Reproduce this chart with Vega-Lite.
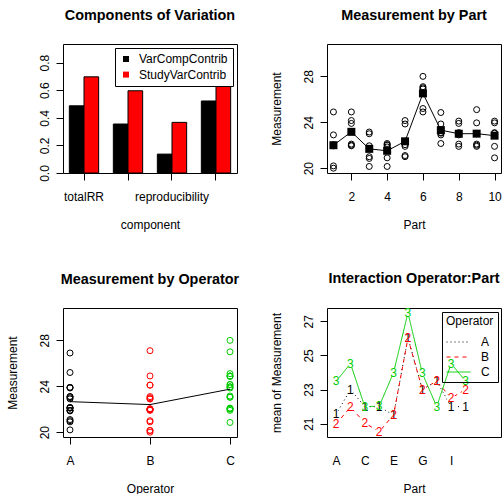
{
"$schema":"https://vega.github.io/schema/vega-lite/v6.json",
"autosize":{"type":"none"},
"padding":{"left":63,"top":44,"right":440,"bottom":450},
"background":"white",
"config":{
 "font":"Liberation Sans",
 "view":{"stroke":"black","strokeWidth":1},
 "axis":{"grid":false,"domain":false,"tickColor":"black","tickSize":7,"tickWidth":1,"labelColor":"black","labelFontSize":12,"labelFont":"Liberation Sans","titleFont":"Liberation Sans","titleFontSize":12,"titleFontWeight":"normal","titleColor":"black","labelFlush":false},
 "axisX":{"labelAngle":0,"labelBaseline":"alphabetic","labelPadding":20.5,"titleY":55.5,"titleBaseline":"alphabetic"},
 "axisY":{"labelAngle":270,"labelAlign":"center","labelBaseline":"alphabetic","labelPadding":7.5,"titleAngle":270,"titleX":-47,"titleBaseline":"alphabetic","labelOverlap":false},
 "title":{"fontSize":14.4,"fontWeight":"bold","font":"Liberation Sans","color":"black","anchor":"middle","frame":"group","offset":20.5,"baseline":"alphabetic"},
 "legend":{"titleFont":"Liberation Sans","labelFont":"Liberation Sans","titleFontWeight":"normal","titleColor":"black","labelColor":"black","titleFontSize":12,"labelFontSize":12}
},
"resolve":{"scale":{"color":"independent","strokeDash":"independent","x":"independent","y":"independent"},"legend":{"color":"independent","strokeDash":"independent"}},
"datasets":{
 "comp":[
  {"component":"totalRR","measure":"VarCompContrib","value":0.487},
  {"component":"totalRR","measure":"StudyVarContrib","value":0.697},
  {"component":"repeatability","measure":"VarCompContrib","value":0.355},
  {"component":"repeatability","measure":"StudyVarContrib","value":0.596},
  {"component":"reproducibility","measure":"VarCompContrib","value":0.137},
  {"component":"reproducibility","measure":"StudyVarContrib","value":0.367},
  {"component":"partToPart","measure":"VarCompContrib","value":0.522},
  {"component":"partToPart","measure":"StudyVarContrib","value":0.722}
 ],
 "meas":[
  {"part":1,"op":"A","code":"1","y":20.2},{"part":1,"op":"A","code":"1","y":22.9},
  {"part":1,"op":"B","code":"2","y":20.0},{"part":1,"op":"B","code":"2","y":21.95},
  {"part":1,"op":"C","code":"3","y":22.05},{"part":1,"op":"C","code":"3","y":24.9},
  {"part":2,"op":"A","code":"1","y":22.1},{"part":2,"op":"A","code":"1","y":23.9},
  {"part":2,"op":"B","code":"2","y":22.0},{"part":2,"op":"B","code":"2","y":21.95},
  {"part":2,"op":"C","code":"3","y":24.15},{"part":2,"op":"C","code":"3","y":24.9},
  {"part":3,"op":"A","code":"1","y":21.0},{"part":3,"op":"A","code":"1","y":23.0},
  {"part":3,"op":"B","code":"2","y":20.15},{"part":3,"op":"B","code":"2","y":21.95},
  {"part":3,"op":"C","code":"3","y":20.85},{"part":3,"op":"C","code":"3","y":23.15},
  {"part":4,"op":"A","code":"1","y":22.15},{"part":4,"op":"A","code":"1","y":21.85},
  {"part":4,"op":"B","code":"2","y":20.15},{"part":4,"op":"B","code":"2","y":20.9},
  {"part":4,"op":"C","code":"3","y":22.0},{"part":4,"op":"C","code":"3","y":22.05},
  {"part":5,"op":"A","code":"1","y":21.1},{"part":5,"op":"A","code":"1","y":21.9},
  {"part":5,"op":"B","code":"2","y":21.0},{"part":5,"op":"B","code":"2","y":22.05},
  {"part":5,"op":"C","code":"3","y":24.15},{"part":5,"op":"C","code":"3","y":23.85},
  {"part":6,"op":"A","code":"1","y":25.2},{"part":6,"op":"A","code":"1","y":26.9},
  {"part":6,"op":"B","code":"2","y":24.9},{"part":6,"op":"B","code":"2","y":27.1},
  {"part":6,"op":"C","code":"3","y":27.0},{"part":6,"op":"C","code":"3","y":28.0},
  {"part":7,"op":"A","code":"1","y":22.15},{"part":7,"op":"A","code":"1","y":23.85},
  {"part":7,"op":"B","code":"2","y":23.1},{"part":7,"op":"B","code":"2","y":22.9},
  {"part":7,"op":"C","code":"3","y":23.05},{"part":7,"op":"C","code":"3","y":24.85},
  {"part":8,"op":"A","code":"1","y":23.1},{"part":8,"op":"A","code":"1","y":23.9},
  {"part":8,"op":"B","code":"2","y":22.9},{"part":8,"op":"B","code":"2","y":24.1},
  {"part":8,"op":"C","code":"3","y":22.1},{"part":8,"op":"C","code":"3","y":21.9},
  {"part":9,"op":"A","code":"1","y":22.1},{"part":9,"op":"A","code":"1","y":21.9},
  {"part":9,"op":"B","code":"2","y":22.0},{"part":9,"op":"B","code":"2","y":23.0},
  {"part":9,"op":"C","code":"3","y":23.95},{"part":9,"op":"C","code":"3","y":25.1},
  {"part":10,"op":"A","code":"1","y":20.9},{"part":10,"op":"A","code":"1","y":23.1},
  {"part":10,"op":"B","code":"2","y":21.9},{"part":10,"op":"B","code":"2","y":24.1},
  {"part":10,"op":"C","code":"3","y":23.05},{"part":10,"op":"C","code":"3","y":23.95}
 ]
},
"columns":2,
"spacing":{"row":135,"column":90},
"bounds":"flush",
"concat":[
 {
  "title":"Components of Variation",
  "width":174,"height":129,
  "data":{"name":"comp"},
  "mark":{"type":"bar","stroke":"black","strokeWidth":1},
  "encoding":{
   "x":{"field":"component","type":"nominal","sort":["totalRR","repeatability","reproducibility","partToPart"],"scale":{"paddingInner":0.3333,"paddingOuter":0.144},"axis":{"title":"component","labelOverlap":false,"labelExpr":"datum.label == 'totalRR' || datum.label == 'reproducibility' ? datum.label : ''"}},
   "xOffset":{"field":"measure","sort":["VarCompContrib","StudyVarContrib"],"scale":{"paddingInner":0,"paddingOuter":0}},
   "y":{"field":"value","type":"quantitative","scale":{"domain":[0,0.935],"nice":false,"zero":false},"axis":{"values":[0,0.2,0.4,0.6,0.8],"format":".1f","title":null}},
   "color":{"field":"measure","type":"nominal","scale":{"domain":["VarCompContrib","StudyVarContrib"],"range":["#000000","#FF0000"]},"legend":{"title":null,"orient":"top-right","offset":4,"padding":5,"labelOffset":7,"rowPadding":3.6,"symbolType":"square","symbolSize":36,"symbolStrokeWidth":0,"fillColor":"white","strokeColor":"black"}}
  }
 },
 {
  "title":"Measurement by Part",
  "width":174,"height":129,
  "data":{"name":"meas"},
  "layer":[
   {"mark":{"type":"point","shape":"circle","filled":false,"color":"black","size":36,"strokeWidth":1,"opacity":1},
    "encoding":{
     "x":{"field":"part","type":"quantitative","title":"Part","scale":{"domain":[0.64,10.36],"nice":false,"zero":false},"axis":{"values":[2,4,6,8,10]}},
     "y":{"field":"y","type":"quantitative","title":"Measurement","scale":{"domain":[19.58,30.82],"nice":false,"zero":false},"axis":{"values":[20,22,24,26,28,30],"labelExpr":"datum.value % 4 == 0 ? datum.label : ''"}}}},
   {"mark":{"type":"line","color":"black","strokeWidth":1},
    "encoding":{
     "x":{"field":"part","type":"quantitative","title":"Part"},
     "y":{"field":"y","aggregate":"mean","type":"quantitative","title":"Measurement"}}},
   {"mark":{"type":"point","shape":"square","filled":true,"color":"black","size":64,"opacity":1},
    "encoding":{
     "x":{"field":"part","type":"quantitative","title":"Part"},
     "y":{"field":"y","aggregate":"mean","type":"quantitative","title":"Measurement"}}}
  ]
 },
 {
  "title":"Measurement by Operator",
  "width":174,"height":129,
  "data":{"name":"meas"},
  "layer":[
   {"mark":{"type":"point","shape":"circle","filled":false,"size":36,"strokeWidth":1,"opacity":1},
    "encoding":{
     "x":{"field":"op","type":"nominal","title":"Operator","scale":{"type":"point","padding":0.0875}},
     "y":{"field":"y","type":"quantitative","title":"Measurement","scale":{"domain":[19.58,30.82],"nice":false,"zero":false},"axis":{"values":[20,22,24,26,28,30],"labelExpr":"datum.value % 4 == 0 ? datum.label : ''"}},
     "color":{"field":"op","type":"nominal","scale":{"domain":["A","B","C"],"range":["#000000","#FF0000","#00CD00"]},"legend":null}}},
   {"mark":{"type":"line","color":"black","strokeWidth":1},
    "encoding":{
     "x":{"field":"op","type":"nominal","title":"Operator"},
     "y":{"field":"y","aggregate":"mean","type":"quantitative","title":"Measurement"}}}
  ]
 },
 {
  "title":"Interaction Operator:Part",
  "width":174,"height":129,
  "data":{"name":"meas"},
  "layer":[
   {"mark":{"type":"line","strokeWidth":1},
    "encoding":{
     "x":{"field":"part","type":"quantitative","title":"Part","scale":{"domain":[0.37,12.47],"nice":false,"zero":false},"axis":{"values":[1,3,5,7,9],"labelExpr":"['A','B','C','D','E','F','G','H','I','J'][datum.value - 1]","ticks":false,"tickSize":0,"labelPadding":27.5}},
     "y":{"field":"y","aggregate":"mean","type":"quantitative","title":"mean of Measurement","scale":{"domain":[20.22,27.78],"nice":false,"zero":false},"axis":{"values":[21,22,23,24,25,26,27],"labelExpr":"datum.value % 2 == 1 ? datum.label : ''"}},
     "color":{"field":"op","type":"nominal","title":"Operator","scale":{"domain":["A","B","C"],"range":["#000000","#FF0000","#00CD00"]},"legend":{"orient":"top-right","offset":3.5,"padding":4,"symbolType":"stroke","symbolSize":576,"symbolStrokeWidth":1,"labelOffset":10,"titlePadding":8,"rowPadding":3,"clipHeight":12,"strokeColor":"black"}},
     "strokeDash":{"field":"op","type":"nominal","title":"Operator","scale":{"domain":["A","B","C"],"range":[[1,3],[4,4],[1,0]]},"legend":{"orient":"top-right","offset":3.5,"padding":4,"symbolType":"stroke","symbolSize":576,"symbolStrokeWidth":1,"labelOffset":10,"titlePadding":8,"rowPadding":3,"clipHeight":12,"strokeColor":"black"}}}},
   {"mark":{"type":"point","shape":"circle","filled":true,"color":"white","size":70,"opacity":1,"strokeWidth":0},
    "encoding":{
     "x":{"field":"part","type":"quantitative","title":"Part"},
     "y":{"field":"y","aggregate":"mean","type":"quantitative","title":"mean of Measurement"},
     "detail":{"field":"op","type":"nominal"}}},
   {"mark":{"type":"text","fontSize":12,"align":"center","baseline":"middle","font":"Liberation Sans"},
    "encoding":{
     "x":{"field":"part","type":"quantitative","title":"Part"},
     "y":{"field":"y","aggregate":"mean","type":"quantitative","title":"mean of Measurement"},
     "text":{"field":"code","type":"nominal"},
     "color":{"field":"op","type":"nominal","title":"Operator","legend":{"orient":"top-right","offset":3.5,"padding":4,"symbolType":"stroke","symbolSize":576,"symbolStrokeWidth":1,"labelOffset":10,"titlePadding":8,"rowPadding":3,"clipHeight":12,"strokeColor":"black"}}}}
  ]
 }
]
}
